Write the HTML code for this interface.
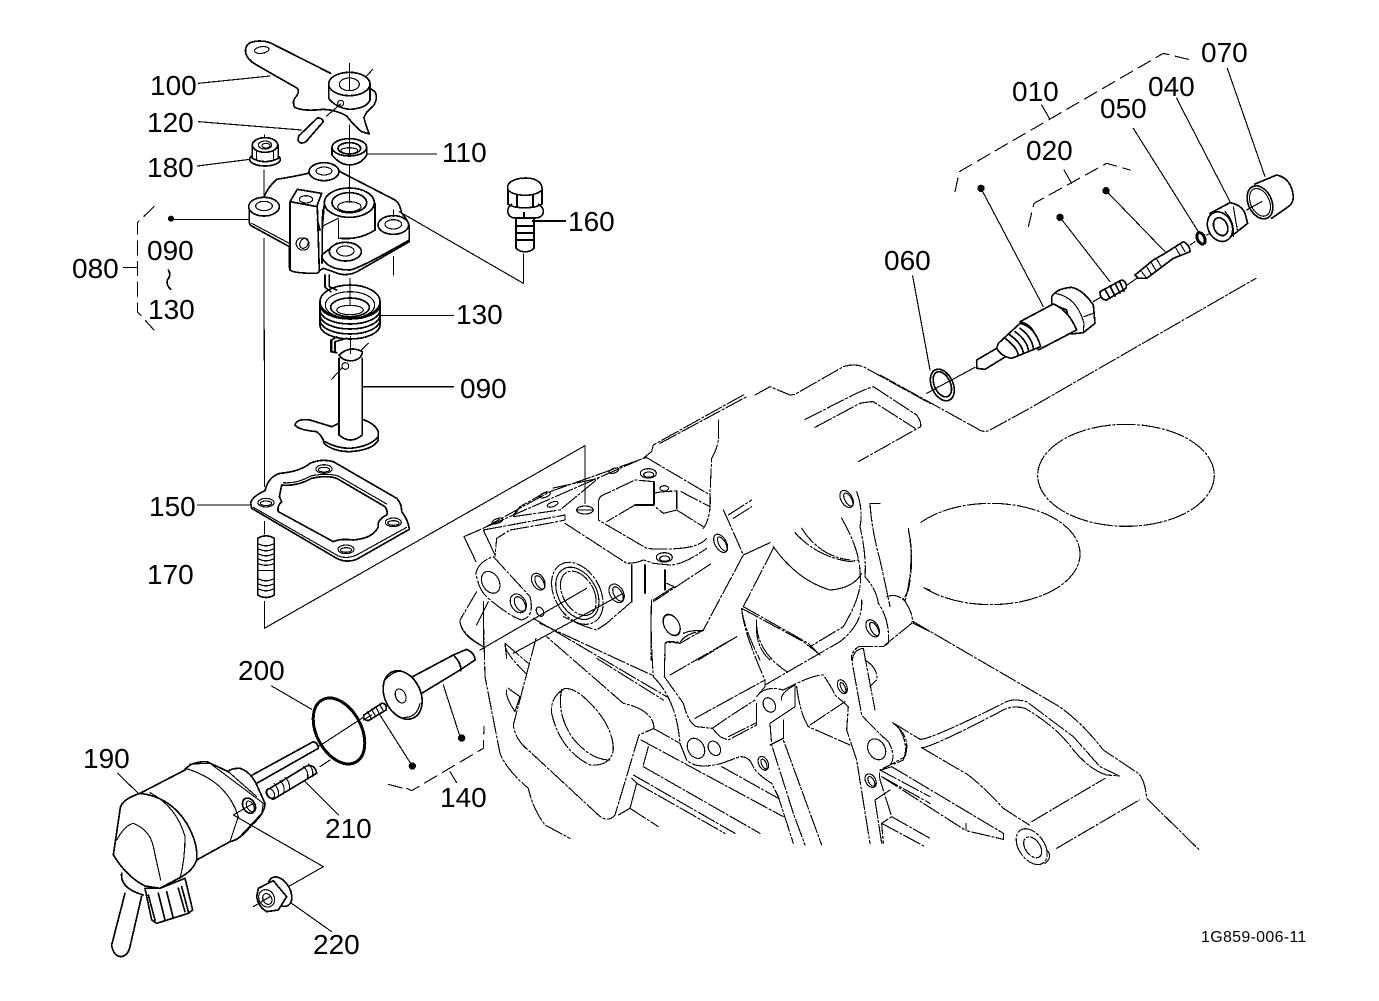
<!DOCTYPE html>
<html><head><meta charset="utf-8"><style>
html,body{margin:0;padding:0;background:#fff}
svg{display:block;shape-rendering:crispEdges}
text{font-family:"Liberation Sans",sans-serif;font-size:28px;fill:#000}
g.z{fill:none;stroke:#000;stroke-width:3.4;stroke-linejoin:round;stroke-linecap:round}
.t{stroke-width:5}
.b{stroke-width:9}
.d{stroke-dasharray:55 7 6 7}
.k{stroke-dasharray:42 20}
.f{fill:#000;stroke:none}
.w{fill:#fff}
</style></head><body>
<svg width="1379" height="1001" viewBox="0 0 1379 1001" xmlns="http://www.w3.org/2000/svg">
<rect width="1379" height="1001" fill="#fff"/>

<!-- engine block, zoom 5 coordinates -->
<g class="z" transform="translate(450,360) scale(.33333)">
<g class="d">
<path d="M585,290L605,275L610,255L880,105M630,250L890,110M915,105L960,80L1020,105L1035,103L1180,20Q1210,10 1240,20L1440,130"/>
<path d="M1065,178L1220,100Q1240,90 1270,80L1400,165Q1415,185 1412,200L1225,305M1095,202L1230,130Q1255,125 1270,125L1395,205"/>
<path d="M805,180L805,240Q800,270 785,295L780,400Q785,470 760,505"/>
<path d="M585,290L780,405M42,530L590,290M100,505L300,395L590,292M190,465L210,440L290,395M190,470L330,450L445,355L305,385"/>
<path d="M100,510L345,465L345,480Q300,490 180,510L140,535L135,590"/>
<path d="M345,490L530,610Q560,610 580,600L610,610L660,615Q700,615 770,565M445,430L445,480L590,565Q630,570 690,565Q750,560 770,535M445,430Q445,410 460,405L555,360L612,365"/>
<path d="M555,435L470,485M612,400Q625,395 680,393M680,450L640,460L615,440M693,395L780,440M680,450L760,500"/>
<path d="M78,640Q85,605 130,590L240,710Q255,770 215,780Q180,770 115,715Q85,690 78,640"/>
<path d="M545,725L470,790L440,810Q400,800 340,770"/>
<path d="M80,695L30,780Q30,820 100,860M100,725L100,860"/>
<path d="M610,725L785,610M603,740L603,900M645,900L645,850Q660,845 690,850L760,810L880,585Q830,470 820,450"/>
<path d="M1175,475Q1230,570 1230,640Q1240,700 1180,800L1080,860M1220,395Q1240,450 1230,500Q1250,590 1245,650Q1280,690 1285,730Q1320,780 1315,850L1300,860L1225,860Q1200,880 1205,900M1260,430L1290,430M1260,430Q1265,510 1290,600Q1310,690 1320,740"/>
<path d="M1375,510Q1395,590 1375,690L1360,720Q1340,700 1310,710M1360,715Q1395,770 1385,790L1305,855M1425,685L1440,690M1390,790L1440,815"/>
<path d="M880,740L1075,850L1110,885M875,745Q880,800 930,900M920,790Q915,860 960,900M745,900L860,830"/>
<path d="M970,565L880,740"/>
<path d="M835,465L905,420M850,475L905,440"/>
<path d="M1035,518Q1100,590 1200,605L1225,600M1055,505Q1110,590 1200,600"/>
<path d="M700,820Q720,810 760,812"/>
</g>
<path d="M970,560Q1040,660 1140,690Q1210,685 1235,640M880,585L960,548"/>
<path d="M42,530L78,605M100,510L135,585"/>
<path d="M190,470L210,440"/>
<path class="t" d="M612,365L612,435L555,435M680,393L680,445M585,615L585,700M645,630L645,690M545,615L545,725"/>
<path d="M650,670L672,680L610,720"/>
<path d="M80,795L115,725"/>
<ellipse cx="142" cy="483" rx="17" ry="7" transform="rotate(-20 142 483)"/>
<ellipse cx="285" cy="405" rx="17" ry="7" transform="rotate(-20 285 405)"/>
<ellipse cx="308" cy="433" rx="17" ry="7" transform="rotate(-20 308 433)"/>
<ellipse cx="492" cy="332" rx="15" ry="7" transform="rotate(-20 492 332)"/>
<ellipse cx="595" cy="340" rx="24" ry="14"/><ellipse cx="596" cy="344" rx="15" ry="8"/>
<ellipse cx="643" cy="385" rx="13" ry="8"/>
<ellipse cx="643" cy="592" rx="24" ry="14"/><ellipse cx="644" cy="596" rx="15" ry="8"/>
<ellipse cx="122" cy="667" rx="25" ry="35" transform="rotate(-30 122 667)"/>
<ellipse cx="205" cy="730" rx="22" ry="30" transform="rotate(-30 205 730)"/><ellipse cx="210" cy="732" rx="14" ry="24" transform="rotate(-30 210 732)"/>
<ellipse cx="265" cy="665" rx="18" ry="27" transform="rotate(-30 265 665)"/><ellipse cx="269" cy="667" rx="11" ry="22" transform="rotate(-30 269 667)"/>
<ellipse cx="500" cy="700" rx="20" ry="30" transform="rotate(-30 500 700)"/><ellipse cx="504" cy="702" rx="12" ry="24" transform="rotate(-30 504 702)"/>
<ellipse cx="270" cy="755" rx="10" ry="15" transform="rotate(-30 270 755)"/>
<ellipse class="d" cx="382" cy="700" rx="68" ry="100" transform="rotate(-30 382 700)"/>
<ellipse cx="382" cy="700" rx="57" ry="84" transform="rotate(-30 382 700)"/>
<ellipse class="d" cx="385" cy="700" rx="46" ry="72" transform="rotate(-30 385 700)"/>
<path d="M90,870L410,685M190,880L520,700"/>
<ellipse cx="405" cy="450" rx="25" ry="12"/><path d="M382,450H428"/>
<ellipse cx="665" cy="795" rx="22" ry="35" transform="rotate(-30 665 795)"/>
<ellipse cx="812" cy="550" rx="17" ry="30" transform="rotate(-30 812 550)"/><ellipse cx="817" cy="552" rx="10" ry="24" transform="rotate(-30 817 552)"/>
<ellipse cx="1190" cy="417" rx="17" ry="28" transform="rotate(-30 1190 417)"/><ellipse cx="1195" cy="419" rx="10" ry="22" transform="rotate(-30 1195 419)"/>
<ellipse cx="1268" cy="805" rx="17" ry="28" transform="rotate(-30 1268 805)"/><ellipse cx="1273" cy="807" rx="10" ry="22" transform="rotate(-30 1273 807)"/>
</g>

<!-- engine block lower, zoom 6 coordinates -->
<g class="z" transform="translate(450,600) scale(.33333)">
<g class="d">
<path d="M258,115L190,375Q195,420 240,455L445,645Q475,670 495,645L567,405Q590,395 612,385Q610,330 520,310L290,110"/>
<path d="M345,265Q300,290 305,340Q330,450 420,495Q480,500 490,450Q490,370 400,290Q370,265 345,265M335,268Q320,340 365,410Q420,480 480,480"/>
<path d="M100,50L105,230L150,460Q170,510 235,565Q250,630 285,675L360,715"/>
<path d="M165,130L235,190M165,130Q160,155 228,220"/>
<path d="M250,55L650,290M270,70L605,225M440,175L640,300"/>
<path d="M573,420L1000,650M610,385L690,430M580,500L930,700M550,525L855,700M560,550L825,700M540,625L625,680M815,500L985,595"/>
<path d="M605,0Q600,90 610,230Q680,300 690,430L710,480Q740,510 815,490L870,470Q895,470 905,490Q915,520 965,550L985,590L1030,730M960,370L965,435L1030,640L1065,735M1000,360L1000,420L1115,735"/>
<path d="M643,230L645,130Q650,120 690,128Q705,100 760,92M643,230L700,310Q715,370 740,380L787,385L830,355L915,300"/>
<path d="M875,25Q880,95 945,240L945,260L920,290M875,25L1060,125L1105,160M920,60Q915,150 1010,215M660,225L860,110M735,355L945,240M945,255L1170,125Q1240,70 1235,0"/>
<path d="M920,290Q945,255 1000,270L1030,255Q1090,225 1120,225Q1150,270 1155,285L1195,320L1190,390L1220,480L1260,730M1040,260Q1050,340 1075,380L1200,435M1080,375L1185,305"/>
<path d="M787,385L810,410L835,420L920,375M835,410L920,368"/>
<path d="M1240,145Q1205,150 1207,190L1235,345Q1270,385 1315,425Q1340,470 1320,495L1290,510Q1285,530 1295,555L1325,650L1295,670L1300,730M1240,145L1275,330M1245,180Q1285,205 1280,240L1260,260M1290,510L1440,590M1295,530L1440,610M1295,670L1425,740M1325,650L1440,715M1275,600L1320,570M1275,600L1295,730M1330,370Q1385,410 1365,470L1320,495"/>
</g>
<path d="M30,60Q30,105 100,140M595,440L580,495M545,535L560,550L540,625L505,645M170,270Q165,290 195,335L210,290L175,265M960,435L1000,415M960,370L1035,320L1035,255M995,300Q990,280 1035,255M920,310L920,375M165,130L170,175"/>
<ellipse cx="665" cy="75" rx="22" ry="33" transform="rotate(-30 665 75)"/>
<ellipse cx="738" cy="445" rx="24" ry="32" transform="rotate(-30 738 445)"/>
<ellipse cx="793" cy="445" rx="17" ry="23" transform="rotate(-30 793 445)"/>
<ellipse cx="958" cy="315" rx="17" ry="23" transform="rotate(-30 958 315)"/>
<ellipse cx="1177" cy="260" rx="13" ry="22" transform="rotate(-25 1177 260)"/><ellipse cx="1179" cy="262" rx="6" ry="16" transform="rotate(-25 1179 262)"/>
<ellipse cx="940" cy="490" rx="14" ry="22" transform="rotate(-25 940 490)"/><ellipse cx="942" cy="492" rx="7" ry="16" transform="rotate(-25 942 492)"/>
<ellipse cx="1280" cy="448" rx="25" ry="33" transform="rotate(-30 1280 448)"/>
<ellipse cx="1262" cy="542" rx="15" ry="22" transform="rotate(-30 1262 542)"/><ellipse cx="1264" cy="544" rx="8" ry="16" transform="rotate(-30 1264 544)"/>
</g>

<!-- right part, zoom 7 coordinates -->
<g class="z" transform="translate(840,420) scale(.33333)">
<g class="d">
<ellipse cx="858" cy="166" rx="265" ry="153"/>
<path d="M243,307A268 152 0 1 1 252,503"/>
<path d="M205,325Q225,430 195,545"/>
<path d="M220,605L650,855Q720,900 790,990L895,1060Q915,1080 920,1135L1078,1290"/>
<path d="M158,908L240,958Q270,960 500,845Q520,835 560,845L700,950L780,1040L838,1068L800,1065"/>
<path d="M245,983Q270,985 490,870Q520,855 555,865Q650,920 700,990Q750,1050 800,1065"/>
<path d="M245,983L385,1065Q430,1100 490,1165L568,1215"/>
<path d="M170,915Q210,970 190,1020L155,1035"/>
<path d="M575,1205L795,1075M650,1285L898,1140"/>
<path d="M155,1040L490,1240L490,1258L378,1232M125,1070L378,1232M125,1050L155,1040"/>
<ellipse cx="575" cy="1280" rx="38" ry="60" transform="rotate(-35 575 1280)"/>
<ellipse cx="578" cy="1282" rx="22" ry="35" transform="rotate(-35 578 1282)"/>
<path d="M620,1290Q640,1310 615,1330"/>
</g>
<path d="M378,1210L378,1232"/>
</g>

<!-- assemblies: zoom 1 coordinates -->
<g class="z" transform="translate(60,30) scale(.33333)">
<path class="t" d="M812,130L630,38Q600,28 570,38Q552,50 558,72Q565,92 590,105L712,175Q720,185 708,200Q695,215 704,232Q730,245 790,238Q830,240 860,258Q885,290 905,305L928,312Q915,280 912,262Q918,245 940,228Q955,205 945,185L930,175"/>
<ellipse cx="605" cy="60" rx="22" ry="10" transform="rotate(-8 605 60)"/>
<path class="t w" d="M806,165L806,205Q830,235 870,238Q920,235 930,210L930,160"/>
<ellipse class="t w" cx="868" cy="162" rx="62" ry="35"/>
<ellipse cx="868" cy="163" rx="30" ry="19"/>
<path d="M868,100V180M938,118L918,140M415,160L630,138M415,275L725,300M868,285V330M920,372H1130M868,410V480M612,420V500M613,315V340M412,408L570,388M800,258L842,222M612,625V990"/>
<circle cx="842" cy="220" r="9"/>
<path class="t w" d="M716,318L772,264Q785,262 790,275L738,335Q720,345 714,330Z"/>
<!-- 110 -->
<path class="t w" d="M816,352L816,375Q840,405 870,405Q905,402 920,375L920,352"/>
<ellipse class="t w" cx="868" cy="352" rx="52" ry="26"/>
<ellipse class="t" cx="868" cy="355" rx="34" ry="17"/><ellipse cx="868" cy="362" rx="25" ry="9"/>
<path d="M868,330V368"/>
<!-- 180 -->
<ellipse class="t w" cx="615" cy="388" rx="46" ry="20"/>
<path class="t w" d="M577,345L577,385Q615,405 655,385L655,345"/>
<ellipse class="t w" cx="615" cy="345" rx="38" ry="22"/>
<ellipse cx="615" cy="345" rx="20" ry="12"/><ellipse cx="618" cy="347" rx="12" ry="7"/>
<path d="M590,365V392M640,365V392"/>
<!-- base -->
<path class="t" d="M612,500Q625,470 650,448Q700,440 745,430Q760,400 800,400Q830,410 840,425L1005,510Q1020,520 1025,550Q1045,570 1048,590L1048,635L900,720Q860,745 820,725L790,715Q775,725 760,730L700,725Q688,720 688,710L688,650L575,588Q568,585 568,575L568,530"/>
<ellipse class="t w" cx="612" cy="530" rx="46" ry="28"/><ellipse cx="612" cy="528" rx="25" ry="14"/>
<ellipse class="t w" cx="792" cy="425" rx="45" ry="27"/><ellipse cx="792" cy="423" rx="24" ry="12"/>
<ellipse class="t w" cx="1000" cy="585" rx="46" ry="28"/><ellipse cx="1000" cy="583" rx="25" ry="14"/>
<path class="t" d="M793,520L788,580M945,520L945,600Q900,630 840,625"/>
<ellipse class="t w" cx="868" cy="518" rx="75" ry="44"/>
<ellipse class="t" cx="868" cy="518" rx="52" ry="30"/><ellipse cx="868" cy="530" rx="35" ry="15"/>
<path d="M835,570V625M785,590L835,565M868,480V518M1000,680V735M1000,540V560M1018,545L1390,760V672M575,580L688,640M340,568H568"/>
<path class="t w" d="M690,515L712,478L785,490L770,530Z"/>
<path class="t w" d="M690,515L690,720Q700,730 770,730L778,725L772,530Z"/>
<ellipse cx="738" cy="508" rx="20" ry="11"/>
<ellipse cx="728" cy="642" rx="20" ry="18" transform="rotate(30 728 642)"/><ellipse cx="732" cy="640" rx="12" ry="16" transform="rotate(30 732 640)"/>
<path class="t" d="M785,675L830,640M785,680Q800,720 870,720Q900,715 1048,630M772,570L780,600M788,540L786,700"/>
<ellipse class="t w" cx="856" cy="665" rx="48" ry="28"/><ellipse cx="856" cy="663" rx="26" ry="15"/>
<!-- 080 bracket -->
<path class="k" d="M282,530L232,578V845L282,900"/>
<path d="M190,712H232"/>
<circle class="f" cx="333" cy="566" r="9"/>
<path class="t" d="M325,720Q335,735 322,750Q318,765 332,778"/>
<!-- spring -->
<path class="t" d="M808,735V770L830,780M795,735V772L812,785"/>
<ellipse class="t" cx="870" cy="815" rx="90" ry="50"/>
<ellipse cx="870" cy="825" rx="74" ry="40"/>
<ellipse class="t" cx="870" cy="832" rx="58" ry="28"/>
<ellipse cx="870" cy="840" rx="40" ry="14"/>
<path class="t" d="M780,815V885M960,815V885M780,825A90 42 0 0 0 960,825M780,840A90 42 0 0 0 960,840M780,855A90 42 0 0 0 960,855M780,870A90 42 0 0 0 960,870M780,885A90 42 0 0 0 960,885"/>
<path class="t" d="M830,920L815,930V965L830,968"/>
<path d="M870,745V825M960,856H1180"/>
</g>

<!-- zoom 2 coordinates -->
<g class="z" transform="translate(140,330) scale(.33333)">
<path class="t" d="M597,280L575,290L510,270Q470,265 465,285Q475,300 530,305Q550,320 552,340Q580,365 630,365Q700,360 715,330L715,305Q705,280 667,268M555,335Q590,355 630,355Q690,350 715,320"/>
<path class="t w" d="M597,85L597,315Q632,345 667,315L667,85"/>
<path class="t w" d="M597,75Q630,45 667,65Q667,85 640,92Q610,95 597,75Z"/>
<circle cx="616" cy="108" r="10"/>
<path d="M632,40V70M685,40L665,60M575,148L605,115"/>
<path class="t" d="M667,170H940"/>
<path d="M373,0V470M373,575V612M373,815V895L1335,347V520"/>
<path d="M172,525H330"/>
<!-- gasket -->
<path class="t" d="M332,520Q335,500 375,482Q385,440 420,430Q480,425 510,400Q545,385 580,395L770,505Q785,520 785,545Q805,570 808,598L650,688Q620,700 590,685L335,535Z"/>
<path d="M340,532L595,678Q620,688 650,675L800,592"/>
<path class="t" d="M425,465Q470,470 515,445Q560,435 590,445L735,530Q745,545 740,555Q710,570 715,590Q700,625 640,630Q600,625 580,635L415,545Q410,530 425,515L418,500Z"/>
<path d="M430,458Q470,462 512,438Q560,428 595,438L740,522"/>
<ellipse cx="378" cy="518" rx="24" ry="13"/><ellipse cx="378" cy="520" rx="17" ry="7"/>
<ellipse cx="552" cy="417" rx="24" ry="13"/><ellipse cx="552" cy="419" rx="17" ry="7"/>
<ellipse cx="760" cy="577" rx="24" ry="13"/><ellipse cx="760" cy="579" rx="17" ry="7"/>
<ellipse cx="618" cy="658" rx="24" ry="13"/><ellipse cx="618" cy="660" rx="17" ry="7"/>
<!-- stud -->
<path class="t" d="M353,625L353,795Q378,810 403,795L403,625Q378,610 353,625Z"/>
<path d="M353,640Q378,655 403,640M353,655Q378,670 403,655M353,670Q378,685 403,670M353,685Q378,700 403,685M353,700Q378,712 403,700M353,745Q378,760 403,745M353,760Q378,775 403,760M353,775Q378,790 403,775M356,722H400"/>
<path class="t" d="M572,30V65L590,68M585,65V35L620,25"/>
<path d="M632,20V40"/>
</g>

<!-- zoom 3 coordinates -->
<g class="z" transform="translate(70,640) scale(.33333)">
<ellipse class="b" cx="807" cy="273" rx="67" ry="106" transform="rotate(-28 807 273)"/>
<path d="M605,138L725,208M745,320L880,232M750,380L780,360M705,425L805,525M970,165L1005,145M880,240L905,225M143,400L205,460"/>
<path class="t" d="M1028,110L1150,45L1190,28Q1215,40 1215,60L1170,90L1055,160M1150,45Q1175,70 1172,92"/>
<ellipse class="t w" cx="998" cy="165" rx="54" ry="76" transform="rotate(-25 998 165)"/>
<path d="M945,120Q1000,60 1045,140M1050,190Q1040,235 1000,232"/>
<ellipse cx="992" cy="168" rx="15" ry="22" transform="rotate(-25 992 168)"/>
<path d="M1120,135L1170,290M930,225L1025,375M1140,395L1160,428"/>
<circle class="f" cx="1175" cy="294" r="11"/><circle class="f" cx="1027" cy="378" r="11"/>
<path class="k" d="M955,433L1000,445M1010,445L1025,452L1240,325L1242,260"/>
<!-- small spring -->
<path class="t" d="M882,225L935,190Q952,190 948,210L895,242Q878,240 882,225Z"/>
<path d="M893,215L905,238M905,207L917,230M917,200L929,223M929,192L941,215"/>
<!-- motor -->
<path class="t w" d="M547,405L730,305Q745,310 745,325L560,430"/>
<path class="t w" d="M210,460L345,390Q360,365 410,365L475,395Q480,385 510,385Q540,395 558,430L585,490Q585,520 545,555Q510,600 480,605L380,660L300,700Z"/>
<path d="M345,385Q470,420 505,530L480,605"/>
<path d="M360,372L420,370L580,490L575,520L500,600M475,395L560,470"/>
<ellipse class="t" cx="537" cy="497" rx="18" ry="24" transform="rotate(-30 537 497)"/>
<ellipse cx="541" cy="499" rx="10" ry="17" transform="rotate(-30 541 499)"/>
<path d="M550,490L490,525L760,680L655,740"/>
<path class="t w" d="M150,510Q150,480 210,460Q300,470 350,550Q385,610 380,660Q370,690 335,710L270,745L225,738Q170,710 130,645Z"/>
<path d="M240,458Q320,500 345,590Q345,660 330,715"/>
<path d="M140,600Q165,555 190,550Q240,570 250,620L272,720"/>
<path class="t w" d="M225,745L245,840L260,850L355,820L368,810L345,715L270,745Z"/>
<path class="t" d="M235,765L255,840M265,760L285,840M290,755L310,835M325,745L345,815M335,740L355,815"/>
<path class="t" d="M155,700Q150,745 220,765M165,760L125,915Q130,950 155,950Q175,945 180,920L215,768"/>
<!-- stud 210 -->
<path class="t w" d="M600,445L710,378Q735,372 740,400L610,478Q585,470 590,450Z"/>
<path d="M612,430Q630,450 625,470M630,422Q648,440 640,462M645,412Q663,430 657,452M700,380Q718,395 712,418M715,372Q733,390 727,410"/>
<ellipse cx="602" cy="460" rx="10" ry="16" transform="rotate(-30 602 460)"/>
<!-- nut 220 -->
<ellipse class="t w" cx="630" cy="755" rx="30" ry="48" transform="rotate(-30 630 755)"/>
<path class="t w" d="M560,770L565,745L610,722L650,770L625,810L590,815Q565,800 560,770Z"/>
<ellipse cx="590" cy="775" rx="23" ry="27" transform="rotate(-30 590 775)"/>
<ellipse cx="592" cy="777" rx="13" ry="17" transform="rotate(-30 592 777)"/>
<path d="M550,800L600,770M665,790L785,875"/>
</g>

<!-- 160 bolt -->
<g fill="none" stroke="#000" stroke-linejoin="round" stroke-width="1.6">
<path d="M508,190C505,180 520,178 526,178C535,178 543,182 542,190L542,204C535,209 514,209 508,204Z"/>
<path d="M508,190C515,197 535,197 542,190M517,195V208M533,195V208"/>
<path d="M512,204C505,208 507,218 515,218H535C545,218 546,208 538,204"/>
<path d="M516,218V248C520,253 530,253 534,248V218"/>
<path d="M516,226H534M516,233H534M516,240H534M524,212V218"/>
<path stroke-width="2" d="M532,221H566"/>
</g>

<!-- right valve: zoom 4 coordinates -->
<g class="z" transform="translate(880,30) scale(.33333)">
<path class="d" d="M0,1035L290,1195Q310,1210 330,1200L440,1140L1128,745"/>
<path class="k" d="M225,485L238,425L850,70L925,88"/>
<path d="M485,225L508,265"/>
<path class="k" d="M445,590L462,520L680,400L750,420"/>
<path d="M552,420L575,460"/>
<circle class="f" cx="303" cy="475" r="11"/><circle class="f" cx="540" cy="562" r="11"/><circle class="f" cx="678" cy="482" r="11"/>
<path d="M303,475L490,830M540,562L690,755M678,482L855,665M760,295L955,605M890,205L1050,515M1042,115L1155,440M98,738L150,1020"/>
<ellipse class="t" cx="187" cy="1065" rx="32" ry="50" transform="rotate(-25 187 1065)"/>
<ellipse class="t" cx="187" cy="1063" rx="24" ry="40" transform="rotate(-25 187 1063)"/>
<path d="M140,1090L285,1012"/>
<path class="t w" d="M290,990L350,955L395,960L385,975L315,1018L290,1015Z"/>
<path class="t w" d="M515,800Q530,775 575,772Q610,780 640,825L645,880L610,908L575,912L560,840L515,822Z"/>
<path d="M525,790Q590,800 612,880L610,908M640,850L612,860"/>
<path class="t w" d="M420,875L520,822Q565,840 590,900L475,960Q470,885 420,875Z"/>
<path class="t w" d="M355,940L420,880Q465,890 482,950L395,985Q365,980 350,955Z"/>
<path class="t" d="M375,925Q410,950 415,975M390,915Q425,940 430,968M405,905Q440,930 445,960M420,895Q455,920 460,955"/>
<path d="M640,815L665,800M735,770L770,745"/>
<!-- spring -->
<path class="t w" d="M660,785L725,750Q742,755 738,775L680,810Q660,810 660,785Z"/>
<path class="t" d="M675,778L690,805M690,768L705,798M705,760L720,790M718,753L732,783"/>
<!-- poppet -->
<path class="t w" d="M765,735L820,690L855,670L910,635Q930,645 930,665L880,685L800,745L775,745Z"/>
<path d="M785,725L800,745M800,710L815,735M815,700L830,725M830,688L845,712M885,650L900,675M900,640L915,665"/>
<ellipse class="b" cx="963" cy="625" rx="11" ry="18" transform="rotate(-25 963 625)"/>
<path d="M930,645L945,635M980,615L1000,605"/>
<!-- 040 -->
<path class="t w" d="M990,550L1050,518Q1085,525 1095,550L1103,580L1040,630Z"/>
<ellipse class="t w" cx="1020" cy="590" rx="36" ry="46" transform="rotate(-25 1020 590)"/>
<ellipse class="t" cx="1022" cy="590" rx="20" ry="28" transform="rotate(-25 1022 590)"/>
<path d="M1060,530L1072,600M1035,545Q1065,575 1060,620"/>
<path d="M1100,540L1145,515"/>
<!-- 070 -->
<path class="t" d="M1125,462L1190,435Q1235,445 1240,500Q1240,520 1225,530L1175,565"/>
<ellipse class="t" cx="1140" cy="517" rx="35" ry="52" transform="rotate(-25 1140 517)"/>
<ellipse cx="1140" cy="517" rx="28" ry="44" transform="rotate(-25 1140 517)"/>
</g>

<!-- labels -->
<text x="150" y="95">100</text>
<text x="147" y="132">120</text>
<text x="147" y="177">180</text>
<text x="442" y="162">110</text>
<text x="568" y="231">160</text>
<text x="147" y="260">090</text>
<text x="148" y="319">130</text>
<text x="72" y="278">080</text>
<text x="456" y="324">130</text>
<text x="460" y="398">090</text>
<text x="149" y="516">150</text>
<text x="147" y="584">170</text>
<text x="238" y="680">200</text>
<text x="83" y="768">190</text>
<text x="325" y="838">210</text>
<text x="440" y="807">140</text>
<text x="313" y="954">220</text>
<text x="1012" y="101">010</text>
<text x="1026" y="160">020</text>
<text x="1100" y="118">050</text>
<text x="1148" y="96">040</text>
<text x="1201" y="62">070</text>
<text x="884" y="270">060</text>
<text x="1201" y="942" style="font-size:16px;letter-spacing:.3px">1G859-006-11</text>
</svg>
</body></html>
